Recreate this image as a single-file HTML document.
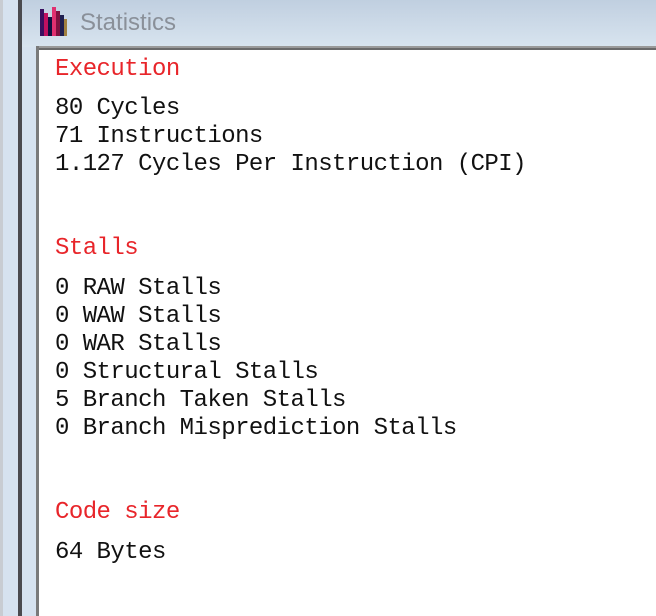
<!DOCTYPE html>
<html><head><style>
html,body{margin:0;padding:0;width:656px;height:616px;overflow:hidden;background:#fff;position:relative}
.a{position:absolute}
.t{position:absolute;left:55px;font-family:"Liberation Mono",monospace;font-size:24px;letter-spacing:-0.55px;color:#111;white-space:pre;line-height:28px}
.r{color:#e8252a}
</style></head><body>
<div class="a" style="left:0;top:0;width:656px;height:47px;background:linear-gradient(#c0cfe0,#d8e4ef)"></div>
<div class="a" style="left:0;top:0;width:18px;height:616px;background:#d6e2ef"></div>
<div class="a" style="left:0;top:0;width:3px;height:616px;background:#c8ccd2"></div>
<div class="a" style="left:18px;top:0;width:4px;height:616px;background:#4a4a4e"></div>
<div class="a" style="left:22px;top:0;width:15px;height:616px;background:#d6e2ef"></div>
<div class="a" style="left:22px;top:0;width:634px;height:47px;background:linear-gradient(#c0cfe0,#d8e4ef)"></div>
<div class="a" style="left:36px;top:46px;width:620px;height:2px;background:#9a9a9a"></div>
<div class="a" style="left:36px;top:48px;width:620px;height:2px;background:#6a6a6a"></div>
<div class="a" style="left:36px;top:46px;width:3px;height:570px;background:#7a7a7a"></div>
<svg class="a" style="left:40px;top:6px" width="30" height="32">
<rect x="0" y="3" width="4" height="27" fill="#3a1060"/>
<rect x="4" y="7" width="4" height="23" fill="#c01060"/>
<rect x="8" y="11" width="4" height="19" fill="#101040"/>
<rect x="12" y="1" width="4" height="29" fill="#e03070"/>
<rect x="16" y="5" width="4" height="25" fill="#801040"/>
<rect x="20" y="9" width="4" height="21" fill="#202050"/>
<rect x="24" y="13" width="3" height="17" fill="#a08040"/>
</svg>
<div class="a" style="left:80px;top:9px;font-family:'Liberation Sans',sans-serif;font-size:24px;color:#8a9099">Statistics</div>
<div class="t r" style="top:56px">Execution</div>
<div class="t" style="top:95px">80 Cycles
71 Instructions
1.127 Cycles Per Instruction (CPI)</div>
<div class="t r" style="top:235px">Stalls</div>
<div class="t" style="top:275px">0 RAW Stalls
0 WAW Stalls
0 WAR Stalls
0 Structural Stalls
5 Branch Taken Stalls
0 Branch Misprediction Stalls</div>
<div class="t r" style="top:499px">Code size</div>
<div class="t" style="top:539px">64 Bytes</div>
</body></html>
